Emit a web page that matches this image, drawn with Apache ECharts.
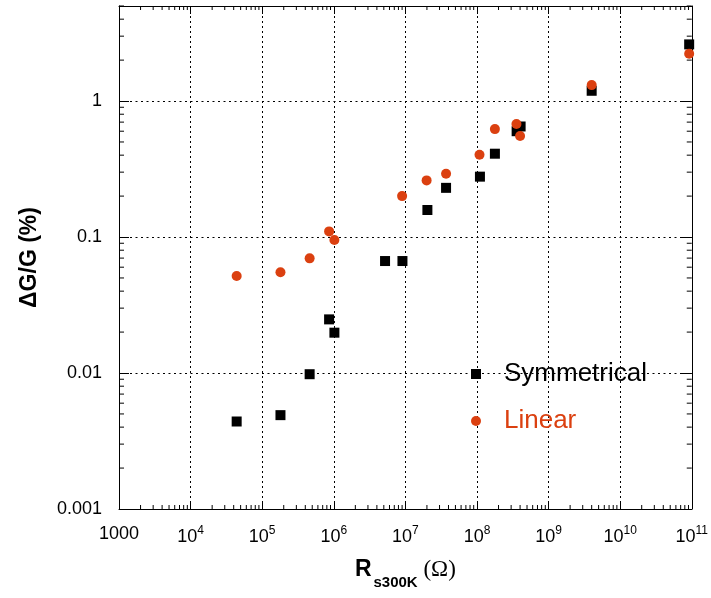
<!DOCTYPE html>
<html>
<head>
<meta charset="utf-8">
<script src="https://cdn.jsdelivr.net/npm/echarts@6/dist/echarts.min.js"></script>
<style>html,body{margin:0;padding:0;background:#fff}#c{width:711px;height:598px}</style>
</head>
<body>
<div id="c"></div>
<script>
// ---- data ----
const seriesNames = ['Symmetrical', 'Linear'];
const symX = [4.4e4, 1.8e5, 4.6e5, 8.6e5, 1.02e6, 5.2e6, 9.1e6, 2.03e7, 3.7e7, 1.1e8, 1.78e8, 3.58e8, 4.07e8, 4.0e9, 9.2e10];
const symY = [0.0044, 0.0049, 0.0098, 0.0248, 0.0198, 0.0666, 0.0666, 0.158, 0.230, 0.278, 0.41, 0.60, 0.65, 1.19, 2.61];
const linX = [4.4e4, 1.8e5, 4.6e5, 8.6e5, 1.02e6, 9.0e6, 1.98e7, 3.7e7, 1.085e8, 1.78e8, 3.56e8, 4.0e8, 4.0e9, 9.2e10];
const linY = [0.0517, 0.055, 0.0697, 0.110, 0.095, 0.200, 0.261, 0.292, 0.403, 0.622, 0.677, 0.553, 1.31, 2.23];
const xTickLabels = ['1000', '10^4', '10^5', '10^6', '10^7', '10^8', '10^9', '10^10', '10^11'];
const yTickLabels = ['0.001', '0.01', '0.1', '1'];
const xMin = 1e3, xMax = 1e11, yMin = 1e-3, yMax = 5;

// minor tick positions (2..9 within each decade)
const xMinor = [], yMinor = [];
for (let e = 3; e < 11; e++) for (let m = 2; m <= 9; m++) xMinor.push([m * Math.pow(10, e), yMin]);
for (let e = -3; e <= 0; e++) for (let m = 2; m <= 9; m++) { const v = m * Math.pow(10, e); if (v <= yMax) yMinor.push([xMin, v]); }

const FONT = 'Liberation Sans';
const ORANGE = '#db4010';

function xLabel(v) {
  const i = Math.round(Math.log10(v)) - 3;
  const s = xTickLabels[i];
  if (s === undefined) return '';
  if (s.indexOf('^') < 0) return '{b|' + s + '}';
  const p = s.split('^');
  return '{b|' + p[0] + '}{e|' + p[1] + '}';
}
function yLabel(v) {
  const i = Math.round(Math.log10(v)) + 3;
  return Math.abs(Math.log10(v) - Math.round(Math.log10(v))) < 1e-6 && yTickLabels[i] !== undefined ? yTickLabels[i] : '';
}

const chart = echarts.init(document.getElementById('c'), null, { renderer: 'canvas' });
const axisLine = { show: true, lineStyle: { color: '#000', width: 1 } };
const option = {
  animation: false,
  backgroundColor: '#fff',
  textStyle: { fontFamily: FONT },
  grid: { left: 119, right: 18, top: 6, bottom: 89 },
  legend: {
    orient: 'vertical', left: 466, top: 354, itemWidth: 10, itemHeight: 10, itemGap: 17,
    textStyle: { fontFamily: FONT, fontSize: 26, lineHeight: 30, padding: [0, 0, 0, 18] },
    data: [
      { name: seriesNames[0], icon: 'rect', textStyle: { color: '#000' } },
      { name: seriesNames[1], icon: 'circle', textStyle: { color: ORANGE } }
    ]
  },
  xAxis: [
    {
      type: 'log', logBase: 10, min: xMin, max: xMax, interval: 1, position: 'bottom',
      axisLine, axisTick: { show: true, inside: true, length: 8, lineStyle: { color: '#000' } },
      splitLine: { show: true, lineStyle: { color: '#000', width: 1, type: [2, 3] } },
      axisLabel: {
        margin: 16, formatter: xLabel,
        rich: {
          b: { fontFamily: FONT, fontSize: 18, color: '#000' },
          e: { fontFamily: FONT, fontSize: 12, color: '#000', padding: [0, 0, 12, 0] }
        }
      },
      name: '{r|R}{s|s300K}{o| (\u03A9)}', nameLocation: 'middle', nameGap: 40,
      nameTextStyle: {
        rich: {
          r: { fontFamily: FONT, fontWeight: 'bold', fontSize: 23, color: '#000' },
          s: { fontFamily: FONT, fontWeight: 'bold', fontSize: 15, color: '#000', padding: [26, 0, 0, 2] },
          o: { fontFamily: 'Liberation Serif', fontSize: 23, color: '#000' }
        }
      }
    },
    {
      type: 'log', logBase: 10, min: xMin, max: xMax, interval: 1, position: 'top',
      axisLine, axisTick: { show: true, inside: true, length: 8, lineStyle: { color: '#000' } },
      splitLine: { show: false }, axisLabel: { show: false }
    }
  ],
  yAxis: [
    {
      type: 'log', logBase: 10, min: yMin, max: yMax, interval: 1, position: 'left',
      axisLine, axisTick: { show: true, inside: true, length: 10, lineStyle: { color: '#000' } },
      splitLine: { show: true, lineStyle: { color: '#000', width: 1, type: [2, 3.5] } },
      axisLabel: { margin: 17, showMaxLabel: false, formatter: yLabel, fontFamily: FONT, fontSize: 18, color: '#000' },
      name: '\u0394G/G (%)', nameLocation: 'middle', nameGap: 78,
      nameTextStyle: { fontFamily: FONT, fontWeight: 'bold', fontSize: 23, color: '#000' }
    },
    {
      type: 'log', logBase: 10, min: yMin, max: yMax, interval: 1, position: 'right',
      axisLine, axisTick: { show: true, inside: true, length: 10, lineStyle: { color: '#000' } },
      splitLine: { show: false }, axisLabel: { show: false }
    }
  ],
  series: [
    {
      type: 'custom', silent: true, xAxisIndex: 0, yAxisIndex: 0, data: xMinor, z: 1,
      renderItem: function (params, api) {
        const v = api.value(0);
        const b = api.coord([v, yMin]), t = api.coord([v, yMax]);
        const st = { stroke: '#000', lineWidth: 1 };
        return { type: 'group', children: [
          { type: 'line', shape: { x1: b[0], y1: b[1], x2: b[0], y2: b[1] - 4 }, style: st },
          { type: 'line', shape: { x1: t[0], y1: t[1], x2: t[0], y2: t[1] + 4 }, style: st }
        ] };
      }
    },
    {
      type: 'custom', silent: true, xAxisIndex: 0, yAxisIndex: 0, data: yMinor, z: 1,
      renderItem: function (params, api) {
        const v = api.value(1);
        const l = api.coord([xMin, v]), r = api.coord([xMax, v]);
        const st = { stroke: '#000', lineWidth: 1 };
        return { type: 'group', children: [
          { type: 'line', shape: { x1: l[0], y1: l[1], x2: l[0] + 5, y2: l[1] }, style: st },
          { type: 'line', shape: { x1: r[0], y1: r[1], x2: r[0] - 5, y2: r[1] }, style: st }
        ] };
      }
    },
    {
      name: seriesNames[0], type: 'scatter', symbol: 'rect', symbolSize: 10, z: 3,
      itemStyle: { color: '#000', opacity: 1 },
      data: symX.map((x, i) => [x, symY[i]])
    },
    {
      name: seriesNames[1], type: 'scatter', symbol: 'circle', symbolSize: 10, z: 4,
      itemStyle: { color: ORANGE, opacity: 1 },
      data: linX.map((x, i) => [x, linY[i]])
    }
  ]
};
chart.setOption(option);
</script>
</body>
</html>
